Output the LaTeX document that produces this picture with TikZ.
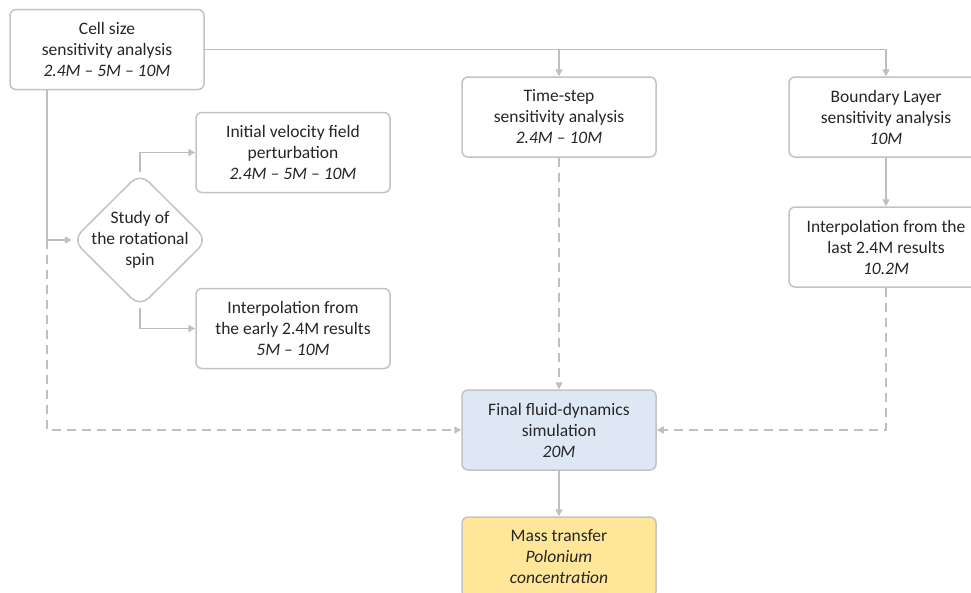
\documentclass[tikz,border=0pt]{standalone}
\usepackage{fontspec}
\setmainfont{Carlito}
\usetikzlibrary{shapes.geometric,arrows.meta}
\definecolor{lgray}{HTML}{BFBFBF}
\definecolor{bgray}{HTML}{C3C3C3}
\definecolor{txt}{HTML}{262626}
\definecolor{fblue}{HTML}{DEE8F4}
\definecolor{fyellow}{HTML}{FFE699}
\tikzset{
  txtfont/.style={font=\fontsize{17.5}{21}\selectfont},
  box/.style={draw=bgray, line width=1.5pt, rounded corners=6pt, fill=white,
    minimum width=194pt, minimum height=80pt, align=center, text=txt,
    txtfont, inner sep=0pt},
  conn/.style={draw=lgray, line width=1.5pt},
  arr/.style={conn, -{Triangle[length=7pt,width=7pt]}},
  dsh/.style={dash pattern=on 9pt off 6pt},
}
\begin{document}
\begin{tikzpicture}[x=1pt,y=-1pt]
\path[use as bounding box, clip] (0,0) rectangle (971,592);
% nodes
\node[box] (cell) at (107,49.5) {Cell size\\sensitivity analysis\\\textit{2.4M – 5M – 10M}};
\node[box] (ts) at (559,117) {Time-step\\sensitivity analysis\\\textit{2.4M – 10M}};
\node[box] (bl) at (886,117) {Boundary Layer\\sensitivity analysis\\\textit{10M}};
\node[box] (iv) at (293,152.5) {Initial velocity field\\perturbation\\\textit{2.4M – 5M – 10M}};
\node[box] (ie) at (293,328.5) {Interpolation from\\the early 2.4M results\\\textit{5M – 10M}};
\node[box] (il) at (886,247) {Interpolation from the\\last 2.4M results\\\textit{10.2M}};
\node[box, fill=fblue] (fin) at (559,430) {Final fluid-dynamics\\simulation\\\textit{20M}};
\node[box, fill=fyellow] (mt) at (559,557) {Mass transfer\\\textit{Polonium}\\\textit{concentration}};
\node[diamond, draw=bgray, line width=1.5pt, rounded corners=12pt, fill=white,
  minimum width=135pt, minimum height=134pt, inner sep=0pt] (d) at (140,240) {};
\node[align=center, text=txt, txtfont, inner sep=0pt] (dt) at (d) {Study of\\the rotational\\spin};
\coordinate (trunk) at (47,240);
% connectors
\draw[arr] (cell.east) -- (cell.east -| bl.north) -- (bl.north);
\draw[arr] (cell.east -| ts.north) -- (ts.north);
\draw[arr] (cell.south -| trunk) -- (trunk) -- (d.west);
\draw[arr, dsh] (trunk) -- (trunk |- fin.west) -- (fin.west);
\draw[arr] (d.north) |- (iv.west);
\draw[arr] (d.south) |- (ie.west);
\draw[arr, dsh] (ts.south) -- (fin.north);
\draw[arr] (bl.south) -- (il.north);
\draw[arr, dsh] (il.south) |- (fin.east);
\draw[arr] (fin.south) -- (mt.north);
\end{tikzpicture}
\end{document}
